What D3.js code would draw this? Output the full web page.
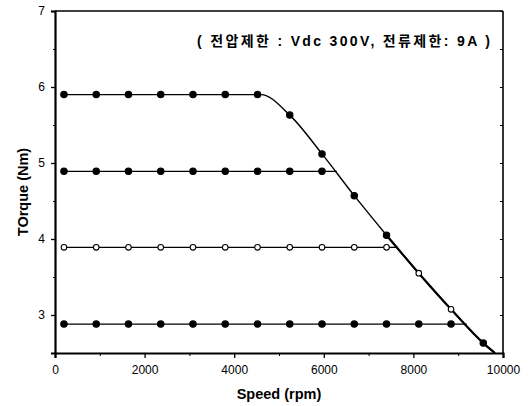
<!DOCTYPE html>
<html><head><meta charset="utf-8">
<script src="https://cdn.jsdelivr.net/npm/d3@7"></script>
<style>body{margin:0;background:#fff}svg{display:block}</style>
</head><body>
<svg id="c" width="531" height="406"></svg>
<script>
// ---- data ----
const speeds = [200, 920, 1640, 2360, 3080, 3800, 4520, 5240, 5960, 6680, 7400, 8120, 8840, 9560];
// torque levels of the four constant-torque series
const levels = [5.9, 4.89, 3.89, 2.88];
// number of markers on each flat part
const flatCounts = [7, 9, 11, 13];
// speed where each flat part meets the limiting envelope
const kneeSpeeds = [4600, 6290, 7656, 9190];
// envelope (voltage-limit) curve
const envSpeed  = [4600, 5240, 5960, 6680, 7400, 8120, 8840, 9560, 9820];
const envTorque = [5.9, 5.63, 5.12, 4.57, 4.05, 3.55, 3.075, 2.63, 2.5];
// markers that sit on the envelope, per series: [speed, torque]
const envMarkers = [
  [[5240, 5.63], [5960, 5.12], [6680, 4.57], [7400, 4.05]],
  [],
  [[8120, 3.55], [8840, 3.075]],
  [[9560, 2.63]]
];
const openMarker = [false, false, true, false];
const xTicks = [0, 2000, 4000, 6000, 8000, 10000];
const yTicks = [3, 4, 5, 6, 7];
const title = "( 전압제한 : Vdc 300V,  전류제한: 9A )";

// ---- layout ----
const svg = d3.select("#c");
const L = 55, R = 503, T = 11, B = 353;
const x = d3.scaleLinear().domain([0, 10000]).range([L, R]);
const y = d3.scaleLinear().domain([2.5, 7]).range([B, T]);
const font = "'Liberation Sans', Arial, sans-serif";

// frame
svg.append("line").attr("x1", L).attr("x2", R).attr("y1", T).attr("y2", T).attr("stroke", "#000").attr("stroke-width", 1.6);
svg.append("line").attr("x1", R).attr("x2", R).attr("y1", T).attr("y2", B).attr("stroke", "#000").attr("stroke-width", 1.6);

// axes
const yAxis = d3.axisLeft(y).tickValues(yTicks).tickSize(4).tickPadding(6).tickFormat(d3.format("d"));
const gy = svg.append("g").attr("transform", `translate(${L},0)`).call(yAxis);
const xAxis = d3.axisBottom(x).tickValues(xTicks).tickSize(5).tickPadding(7).tickFormat(d3.format("d"));
const gx = svg.append("g").attr("transform", `translate(0,${B})`).call(xAxis);
[gx, gy].forEach(g => {
  g.select(".domain").attr("stroke-width", 2.2);
  g.selectAll(".tick line").attr("stroke-width", 1.3);
  g.selectAll("text").attr("font-family", font).attr("font-size", 12).attr("fill", "#000");
});
// minor ticks
svg.append("g").attr("transform", `translate(${L},0)`)
  .call(d3.axisLeft(y).tickValues([2.5, 3.5, 4.5, 5.5, 6.5]).tickSize(2).tickFormat(""))
  .select(".domain").remove();
svg.append("g").attr("transform", `translate(0,${B})`)
  .call(d3.axisBottom(x).tickValues([1000, 3000, 5000, 7000, 9000]).tickSize(3).tickFormat(""))
  .select(".domain").remove();
// right mirrored ticks
svg.append("g").attr("transform", `translate(${R},0)`)
  .call(d3.axisLeft(y).tickValues(d3.range(2.5, 7.01, 0.5)).tickSize(3).tickFormat(""))
  .select(".domain").remove();

// axis titles
svg.append("text").attr("x", 279).attr("y", 399).attr("text-anchor", "middle")
  .attr("font-family", font).attr("font-weight", "bold").attr("font-size", 14.5).text("Speed (rpm)");
svg.append("text").attr("transform", "translate(28,192) rotate(-90)").attr("text-anchor", "middle")
  .attr("font-family", font).attr("font-weight", "bold").attr("font-size", 14.5).text("TOrque (Nm)");

// title
svg.append("text").attr("x", 197).attr("y", 46)
  .attr("textLength", 293).attr("lengthAdjust", "spacing")
  .attr("font-family", "'Liberation Sans','Noto Sans CJK KR', sans-serif").attr("font-weight", "bold")
  .attr("font-size", 14).text(title);

// lines
const curved = d3.line().x(d => x(d[0])).y(d => y(d[1])).curve(d3.curveMonotoneX);
const straight = d3.line().x(d => x(d[0])).y(d => y(d[1]));
const env = envSpeed.map((s, i) => [s, envTorque[i]]);
// top series: flat part then the envelope
svg.append("path")
  .attr("d", curved([[speeds[0], levels[0]]].concat(env)))
  .attr("fill", "none").attr("stroke", "#000").attr("stroke-width", 1.4);
// lower envelope part is shared by several series -> heavier
svg.append("path")
  .attr("d", curved(env.filter(p => p[0] >= 7400)))
  .attr("fill", "none").attr("stroke", "#000").attr("stroke-width", 2.2);
// other series: flat part up to the envelope
levels.slice(1).forEach((lv, j) => {
  const k = kneeSpeeds[j + 1];
  svg.append("path").attr("d", straight([[speeds[0], lv], [k, lv]]))
    .attr("fill", "none").attr("stroke", "#000").attr("stroke-width", 1.4);
});

// markers
levels.forEach((lv, i) => {
  const pts = speeds.slice(0, flatCounts[i]).map(s => [s, lv]).concat(envMarkers[i]);
  svg.append("g").selectAll("circle").data(pts).join("circle")
    .attr("cx", d => x(d[0])).attr("cy", d => y(d[1])).attr("r", openMarker[i] ? 2.8 : 3.2)
    .attr("fill", openMarker[i] ? "#fff" : "#000").attr("stroke", "#000").attr("stroke-width", 1.1);
});
</script>
</body></html>
